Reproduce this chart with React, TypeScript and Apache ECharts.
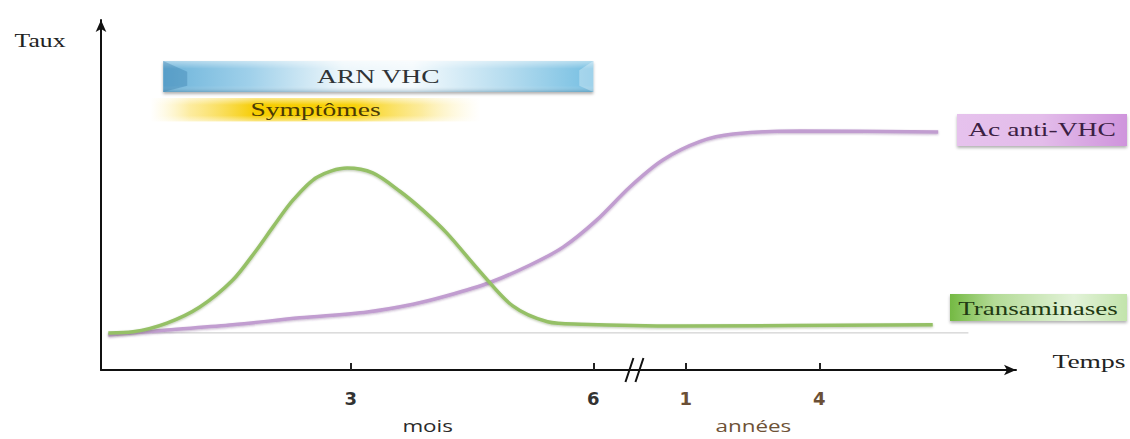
import React, { useEffect, useRef } from 'react';
import * as echarts from 'echarts';

// x axis: abstract time index (0..100), months before the break, years after
const tickValues = [27.3, 53.8, 63.9, 78.5];
const tickLabels = ['3', '6', '1', '4'];
const tickGroups = ['m', 'm', 'a', 'a'];
const unitLabels = ['mois', 'années'];
const unitCenters = [35.7, 71.3];
const breakAt = 58.3;

// Transaminases (green)
const greenX = [0.8, 3.5, 7.2, 10.8, 14.4, 17.0, 18.8, 21.0, 23.6, 26.9, 29.7, 32.7, 35.2, 37.8, 41.5, 45.0, 48.8, 52.4, 63.3, 90.9];
const greenY = [10.6, 10.9, 13.4, 18.0, 25.7, 34.3, 40.9, 48.6, 55.1, 57.7, 56.3, 51.0, 45.6, 39.1, 27.9, 18.3, 13.8, 13.1, 12.6, 12.9];

// Ac anti-VHC (purple)
const purpleX = [0.8, 7.2, 14.4, 21.7, 29.1, 34.1, 37.8, 42.5, 46.9, 50.5, 54.2, 57.8, 61.4, 65.5, 69.1, 76.4, 91.5];
const purpleY = [10.0, 11.4, 12.9, 14.9, 16.6, 18.8, 21.2, 25.0, 30.0, 35.1, 42.9, 52.3, 60.0, 65.3, 67.4, 68.3, 68.0];

// baseline
const baselineX = [1.0, 94.8];
const baselineY = [10.6, 10.6];

// timeline bars
const timelineNames = ['ARN VHC', 'Symptômes'];
const timelineStart = [6.8, 5.4];
const timelineEnd = [53.8, 41.5];
const timelineTop = [88.3, 77.7];
const timelineBottom = [79.4, 71.1];

const serif = '"Liberation Serif", "DejaVu Serif", serif';
const sans = '"Open Sans", "DejaVu Sans", sans-serif';

const zip = (xs: number[], ys: number[]) => xs.map((x, i) => [x, ys[i]]);

export default function App() {
  const ref = useRef<HTMLDivElement>(null);

  useEffect(() => {
    if (!ref.current) return;
    const chart = echarts.init(ref.current, null, { renderer: 'svg' });

    const timelineData = timelineNames.map((n, i) => [
      timelineStart[i],
      timelineEnd[i],
      timelineTop[i],
      timelineBottom[i],
    ]);

    const renderItem = (params: any, api: any) => {
      const i = params.dataIndex;
      const p0 = api.coord([api.value(0), api.value(2)]);
      const p1 = api.coord([api.value(1), api.value(3)]);
      const x = p0[0];
      const y = p0[1];
      const w = p1[0] - p0[0];
      const h = p1[1] - p0[1];
      const cx = x + w / 2;
      const cy = y + h / 2;
      if (i === 0) {
        return {
          type: 'group',
          children: [
            {
              type: 'rect',
              shape: { x, y, width: w, height: h },
              style: {
                fill: new echarts.graphic.LinearGradient(0, 0, 1, 0, [
                  { offset: 0, color: '#6db4da' },
                  { offset: 0.2, color: '#9fd0ea' },
                  { offset: 0.42, color: '#eef7fb' },
                  { offset: 0.58, color: '#f4fafd' },
                  { offset: 0.8, color: '#b5dcef' },
                  { offset: 1, color: '#76bfe2' },
                ]),
                shadowBlur: 3,
                shadowOffsetY: 2,
                shadowColor: 'rgba(0,0,0,0.3)',
              },
            },
            {
              type: 'rect',
              shape: { x, y, width: w, height: h },
              style: {
                fill: new echarts.graphic.LinearGradient(0, 0, 0, 1, [
                  { offset: 0, color: 'rgba(255,255,255,0.45)' },
                  { offset: 0.25, color: 'rgba(255,255,255,0)' },
                  { offset: 0.8, color: 'rgba(255,255,255,0)' },
                  { offset: 1, color: 'rgba(60,110,140,0.35)' },
                ]),
              },
            },
            {
              type: 'polygon',
              shape: {
                points: [
                  [x, y],
                  [x + 24, y + h * 0.35],
                  [x + 24, y + h * 0.8],
                  [x, y + h],
                ],
              },
              style: { fill: 'rgba(40,110,160,0.3)' },
            },
            {
              type: 'polygon',
              shape: {
                points: [
                  [x + w, y],
                  [x + w - 14, y + h * 0.3],
                  [x + w - 14, y + h * 0.8],
                  [x + w, y + h],
                ],
              },
              style: { fill: 'rgba(255,255,255,0.3)' },
            },
            {
              type: 'text',
              x: cx,
              y: cy,
              scaleX: 1.45,
              style: {
                text: timelineNames[i],
                align: 'center',
                verticalAlign: 'middle',
                font: '19px ' + serif,
                fill: '#2f3336',
              },
            },
          ],
        };
      }
      return {
        type: 'group',
        children: [
          {
            type: 'rect',
            shape: { x, y, width: w, height: h },
            style: {
              fill: new echarts.graphic.LinearGradient(0, 0, 1, 0, [
                { offset: 0, color: 'rgba(255,236,150,0)' },
                { offset: 0.12, color: 'rgba(250,220,80,0.55)' },
                { offset: 0.32, color: '#f6cc00' },
                { offset: 0.62, color: '#f8d20c' },
                { offset: 0.82, color: 'rgba(250,222,90,0.6)' },
                { offset: 1, color: 'rgba(255,240,170,0)' },
              ]),
            },
          },
          {
            type: 'rect',
            shape: { x, y, width: w, height: h },
            style: {
              fill: new echarts.graphic.LinearGradient(0, 0, 0, 1, [
                { offset: 0, color: 'rgba(255,255,255,0.55)' },
                { offset: 0.3, color: 'rgba(255,255,255,0)' },
                { offset: 0.75, color: 'rgba(255,255,255,0)' },
                { offset: 1, color: 'rgba(255,255,255,0.5)' },
              ]),
            },
          },
          {
            type: 'text',
            x: cx,
            y: cy,
            scaleX: 1.45,
            style: {
              text: timelineNames[i],
              align: 'center',
              verticalAlign: 'middle',
              font: '19px ' + serif,
              fill: '#4a3a06',
            },
          },
        ],
      };
    };

    const option: any = {
      animation: false,
      grid: { left: 101, right: 114, top: 20, bottom: 69, containLabel: false },
      xAxis: {
        type: 'value',
        min: 0,
        max: 100,
        axisLine: {
          show: true,
          symbol: ['none', 'arrow'],
          symbolSize: [8, 12],
          lineStyle: { color: '#111', width: 2 },
        },
        axisTick: {
          show: true,
          customValues: tickValues,
          inside: true,
          length: 7,
          lineStyle: { color: '#222', width: 2 },
        },
        axisLabel: {
          show: true,
          customValues: tickValues,
          margin: 19,
          formatter: (v: number) => {
            const i = tickValues.findIndex((t) => Math.abs(t - v) < 1e-6);
            return i < 0 ? '' : `{${tickGroups[i]}|${tickLabels[i]}}`;
          },
          rich: {
            m: { color: '#333', fontFamily: 'DejaVu Sans', fontWeight: 'bold', fontSize: 18 },
            a: { color: '#6b4f36', fontFamily: 'DejaVu Sans', fontWeight: 'bold', fontSize: 18 },
          },
        },
        splitLine: { show: false },
      },
      yAxis: {
        type: 'value',
        min: 0,
        max: 100,
        axisLine: {
          show: true,
          symbol: ['none', 'arrow'],
          symbolSize: [8, 12],
          lineStyle: { color: '#111', width: 2 },
        },
        axisTick: { show: false },
        axisLabel: { show: false },
        splitLine: { show: false },
      },
      series: [
        {
          type: 'line',
          data: zip(baselineX, baselineY),
          showSymbol: false,
          lineStyle: { color: '#c6c6c6', width: 1 },
          z: 1,
        },
        {
          name: 'Ac anti-VHC',
          type: 'line',
          data: zip(purpleX, purpleY),
          smooth: 0.3,
          showSymbol: false,
          lineStyle: {
            color: '#c19dd0',
            width: 3.5,
            shadowColor: 'rgba(90,40,110,0.35)',
            shadowBlur: 2,
            shadowOffsetY: 1,
          },
          z: 2,
        },
        {
          name: 'Transaminases',
          type: 'line',
          data: zip(greenX, greenY),
          smooth: 0.3,
          showSymbol: false,
          lineStyle: {
            color: '#95c066',
            width: 3.5,
            shadowColor: 'rgba(60,90,20,0.35)',
            shadowBlur: 2,
            shadowOffsetY: 1,
          },
          z: 3,
        },
        {
          type: 'custom',
          data: timelineData,
          encode: { x: [0, 1], y: [2, 3] },
          renderItem,
          z: 4,
        },
      ],
    };

    chart.setOption(option);

    const bp = chart.convertToPixel({ gridIndex: 0 } as any, [breakAt, 0]) as number[];
    const unitPix = unitCenters.map((u) => chart.convertToPixel({ gridIndex: 0 } as any, [u, 0]) as number[]);

    const graphic: any[] = [
      {
        type: 'text',
        x: 40,
        y: 41,
        scaleX: 1.35,
        style: { text: 'Taux', align: 'center', verticalAlign: 'middle', font: '19px ' + serif, fill: '#222' },
      },
      {
        type: 'text',
        x: 1089,
        y: 362,
        scaleX: 1.45,
        style: { text: 'Temps', align: 'center', verticalAlign: 'middle', font: '19px ' + serif, fill: '#222' },
      },
      {
        type: 'line',
        shape: { x1: bp[0] - 9, y1: bp[1] + 12, x2: bp[0] - 1, y2: bp[1] - 12 },
        style: { stroke: '#111', lineWidth: 2 },
      },
      {
        type: 'line',
        shape: { x1: bp[0] + 1, y1: bp[1] + 12, x2: bp[0] + 9, y2: bp[1] - 12 },
        style: { stroke: '#111', lineWidth: 2 },
      },
      ...unitLabels.map((t, i) => ({
        type: 'text',
        x: unitPix[i][0],
        y: 426,
        scaleX: 1.4,
        style: {
          text: t,
          align: 'center',
          verticalAlign: 'middle',
          font: '16px ' + sans,
          fill: i === 0 ? '#2a2a2a' : '#6e5236',
        },
      })),
      {
        type: 'rect',
        shape: { x: 957, y: 114, width: 170, height: 32 },
        style: {
          fill: new echarts.graphic.LinearGradient(0, 0, 1, 0, [
            { offset: 0, color: '#e6c2ed' },
            { offset: 0.5, color: '#e3bcea' },
            { offset: 1, color: '#cf94dc' },
          ]),
          shadowBlur: 3,
          shadowOffsetY: 2,
          shadowColor: 'rgba(0,0,0,0.3)',
        },
      },
      {
        type: 'text',
        x: 1042,
        y: 130,
        scaleX: 1.45,
        style: { text: 'Ac anti-VHC', align: 'center', verticalAlign: 'middle', font: '19px ' + serif, fill: '#3b2043' },
      },
      {
        type: 'rect',
        shape: { x: 950, y: 294, width: 177, height: 27 },
        style: {
          fill: new echarts.graphic.LinearGradient(0, 0, 1, 0, [
            { offset: 0, color: '#74b943' },
            { offset: 0.25, color: '#b3db96' },
            { offset: 0.7, color: '#e2f2d8' },
            { offset: 1, color: '#c2e4ab' },
          ]),
          shadowBlur: 3,
          shadowOffsetY: 2,
          shadowColor: 'rgba(0,0,0,0.3)',
        },
      },
      {
        type: 'text',
        x: 1038,
        y: 308,
        scaleX: 1.42,
        style: { text: 'Transaminases', align: 'center', verticalAlign: 'middle', font: '19px ' + serif, fill: '#1f3a12' },
      },
    ];

    chart.setOption({ graphic });

    return () => chart.dispose();
  }, []);

  return (
    <div
      ref={ref}
      style={{ position: 'absolute', left: 0, top: 0, width: 1130, height: 439, background: '#fff' }}
    />
  );
}
